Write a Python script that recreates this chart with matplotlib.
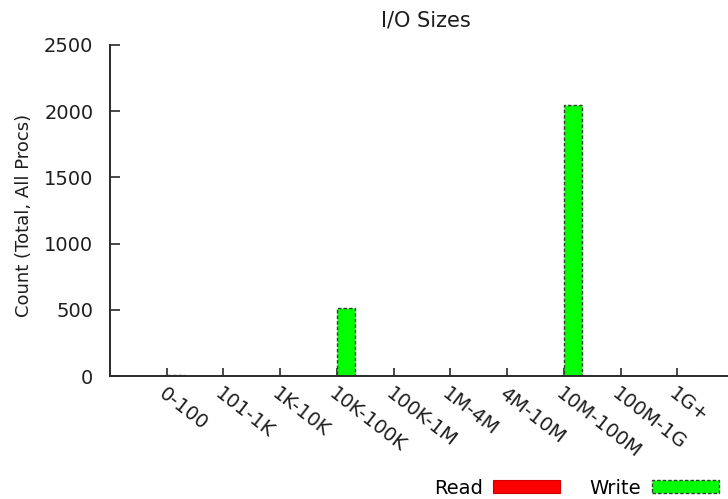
import matplotlib
matplotlib.use("Agg")
import matplotlib.pyplot as plt
import matplotlib.transforms as mtransforms
from matplotlib.patches import Patch
import numpy as np

# I/O size histogram (total counts across all processes)
size_bins = ["0-100", "101-1K", "1K-10K", "10K-100K", "100K-1M",
             "1M-4M", "4M-10M", "10M-100M", "100M-1G", "1G+"]
read_counts = [0, 0, 0, 0, 0, 0, 0, 0, 0, 0]
write_counts = [8, 0, 0, 512, 0, 0, 0, 2048, 0, 0]
y_ticks = [0, 500, 1000, 1500, 2000, 2500]

plt.rcParams["font.family"] = ["DejaVu Sans"]
FS = 14
AX_COLOR = "#2a2a2a"
TXT = "#1e1e1e"

fig = plt.figure(figsize=(7.28, 4.99), dpi=100)
ax = fig.add_axes([110 / 728, 1 - 376 / 499, 624 / 728, 331 / 499])

x = np.arange(len(size_bins))
bw = 0.32
ax.bar(x - bw, read_counts, width=bw, align="edge", color="#ff0000",
       edgecolor="#ff0000", linewidth=0.8, zorder=2)
ax.bar(x, write_counts, width=bw, align="edge", color="#00ff00",
       edgecolor="#3a3a3a", linewidth=1.0, linestyle=(0, (2.5, 1.5)), zorder=2)

ax.set_xlim(-1, len(size_bins))
ax.set_ylim(0, 2500)
ax.set_yticks(y_ticks)
ax.set_yticklabels([str(v) for v in y_ticks], fontsize=FS, color=TXT)
ax.set_xticks(x)
ax.set_xticklabels(size_bins, fontsize=FS, color=TXT,
                   rotation=-38, rotation_mode="anchor", ha="left", va="top")
offset = mtransforms.ScaledTranslation(1 / 100, -4 / 100, fig.dpi_scale_trans)
for lab in ax.get_xticklabels():
    lab.set_transform(lab.get_transform() + offset)

ax.tick_params(axis="y", direction="in", length=7, width=1.2, color=AX_COLOR, pad=12)
ax.tick_params(axis="x", direction="in", length=6, width=1.2, color=AX_COLOR, pad=6)
for side in ("top", "right"):
    ax.spines[side].set_visible(False)
for side in ("left", "bottom"):
    ax.spines[side].set_color(AX_COLOR)
    ax.spines[side].set_linewidth(1.4)
    ax.spines[side].set_zorder(3)

fig.text(426 / 728, 1 - 21 / 499, "I/O Sizes", ha="center", va="center",
         fontsize=15, color=TXT)
fig.text(24 / 728, 1 - 215 / 499, "Count (Total, All Procs)", rotation=90,
         ha="center", va="center", fontsize=13, color=TXT)

handles = [Patch(facecolor="#ff0000", edgecolor="#cc0000", linewidth=0.8),
           Patch(facecolor="#00ff00", edgecolor="#3a3a3a", linewidth=1.0,
                 linestyle=(0, (2.5, 1.5)))]
fig.legend(handles, ["Read", "Write"], loc="center right",
           bbox_to_anchor=(719 / 728, 1 - 488 / 499), ncol=2, markerfirst=False,
           frameon=False, fontsize=FS, handlelength=3.45, handleheight=0.6,
           handletextpad=0.55, columnspacing=1.5, borderaxespad=0, borderpad=0)

fig.savefig("out.png", dpi=100)
